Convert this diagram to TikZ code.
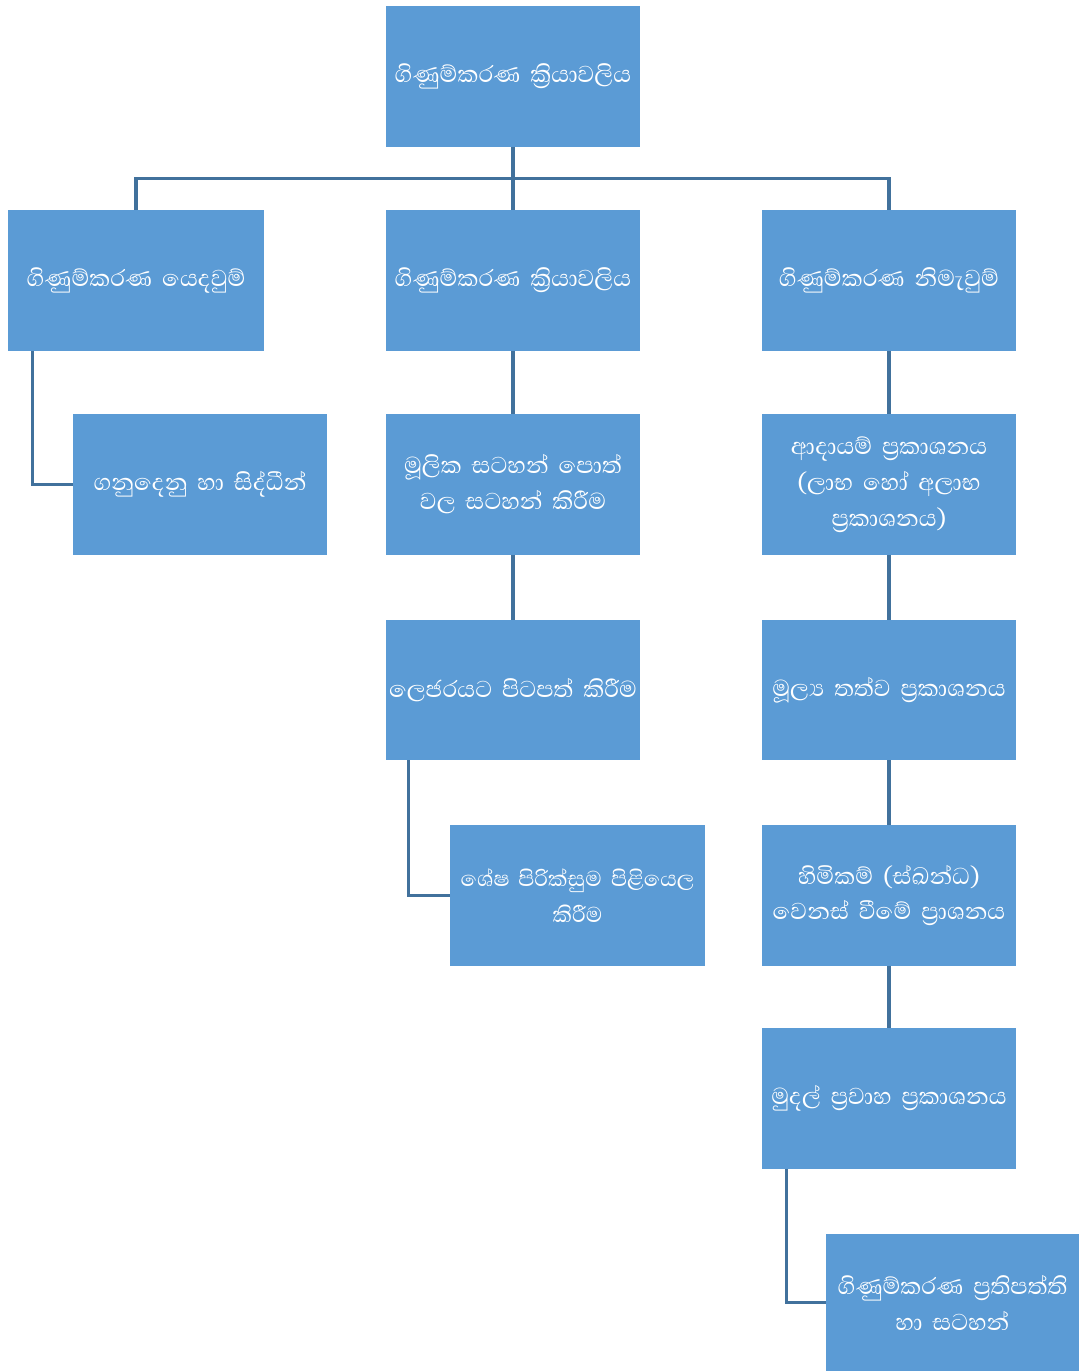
\documentclass[tikz,border=0pt]{standalone}
\usepackage{fontspec}
\newfontfamily\sinhalafont[Script=Sinhala]{Abhaya Libre}
\usetikzlibrary{positioning}

\definecolor{boxblue}{RGB}{91,155,213}
\definecolor{lineblue}{RGB}{65,113,156}

\tikzset{
	box/.style={rectangle, fill=boxblue, text=white, minimum width=6.35cm, minimum height=3.5cm,
		text width=6.3cm, align=center, font=\sinhalafont\fontsize{21}{25.5}\selectfont, inner sep=0pt},
	link/.style={draw=lineblue, line width=2.2pt},
}

\begin{document}
\begin{tikzpicture}[x=0.025cm, y=-0.025cm]
			%\draw[help lines] (0,0) grid (1078,1371);
			\useasboundingbox (0,0) rectangle (1078,1371);

			\node[box] (proc0) at (513, 76.5) {ගිණුම්කරණ ක්^^^^200dරියාවලිය};

			\node[box, minimum width=6.4cm] (inputs) at (136, 280.5) {ගිණුම්කරණ යෙදවුම්};
			\node[box] (proc) at (513, 280.5) {ගිණුම්කරණ ක්^^^^200dරියාවලිය};
			\node[box] (outputs) at (889, 280.5) {ගිණුම්කරණ නිමැවුම්};

			\node[box] (trans) at (200, 484.5) {ගනුදෙනු හා සිද්ධීන්};

			\node[box] (journal) at (513, 484.5) {මූලික සටහන් පොත්\\වල සටහන් කිරීම};
			\node[box] (ledger) at (513, 690) {ලෙජරයට පිටපත් කිරීම};
			\node[box, font=\sinhalafont\fontsize{19.5}{25.5}\selectfont] (trial) at (577.5, 895.5) {ශේෂ පිරික්සුම පිළියෙල\\කිරීම};

			\node[box] (income) at (889, 484.5) {ආදායම් ප්^^^^200dරකාශනය\\(ලාභ හෝ අලාභ\\ප්^^^^200dරකාශනය)};
			\node[box] (position) at (889, 690) {මූල්^^^^200dය තත්ව ප්^^^^200dරකාශනය};
			\node[box] (equity) at (889, 895.5) {හිමිකම් (ස්ඛන්ධ)\\වෙනස් වීමේ ප්^^^^200dරාශනය};
			\node[box] (cash) at (889, 1098.5) {මුදල් ප්^^^^200dරවාහ ප්^^^^200dරකාශනය};
			\node[box, minimum width=6.275cm, minimum height=3.425cm] (policy) at (952.5, 1302.5) {ගිණුම්කරණ ප්^^^^200dරතිපත්ති\\හා සටහන්};

			% top level
			\draw[link] (proc0.south) -- ++(0, 32) coordinate (bus);
			\draw[link] (bus) -| (inputs.north);
			\draw[link] (bus) -| (outputs.north);
			\draw[link] (bus) -- (proc.north);

			% inputs
			\draw[link] ([xshift=0.625cm]inputs.south west) |- (trans.west);

			% process
			\draw[link] (proc) -- (journal);
			\draw[link] (journal) -- (ledger);
			\draw[link] ([xshift=0.575cm]ledger.south west) |- (trial.west);

			% outputs
			\draw[link] (outputs) -- (income);
			\draw[link] (income) -- (position);
			\draw[link] (position) -- (equity);
			\draw[link] (equity) -- (cash);
			\draw[link] ([xshift=0.625cm]cash.south west) |- (policy.west);
		\end{tikzpicture}
\end{document}
